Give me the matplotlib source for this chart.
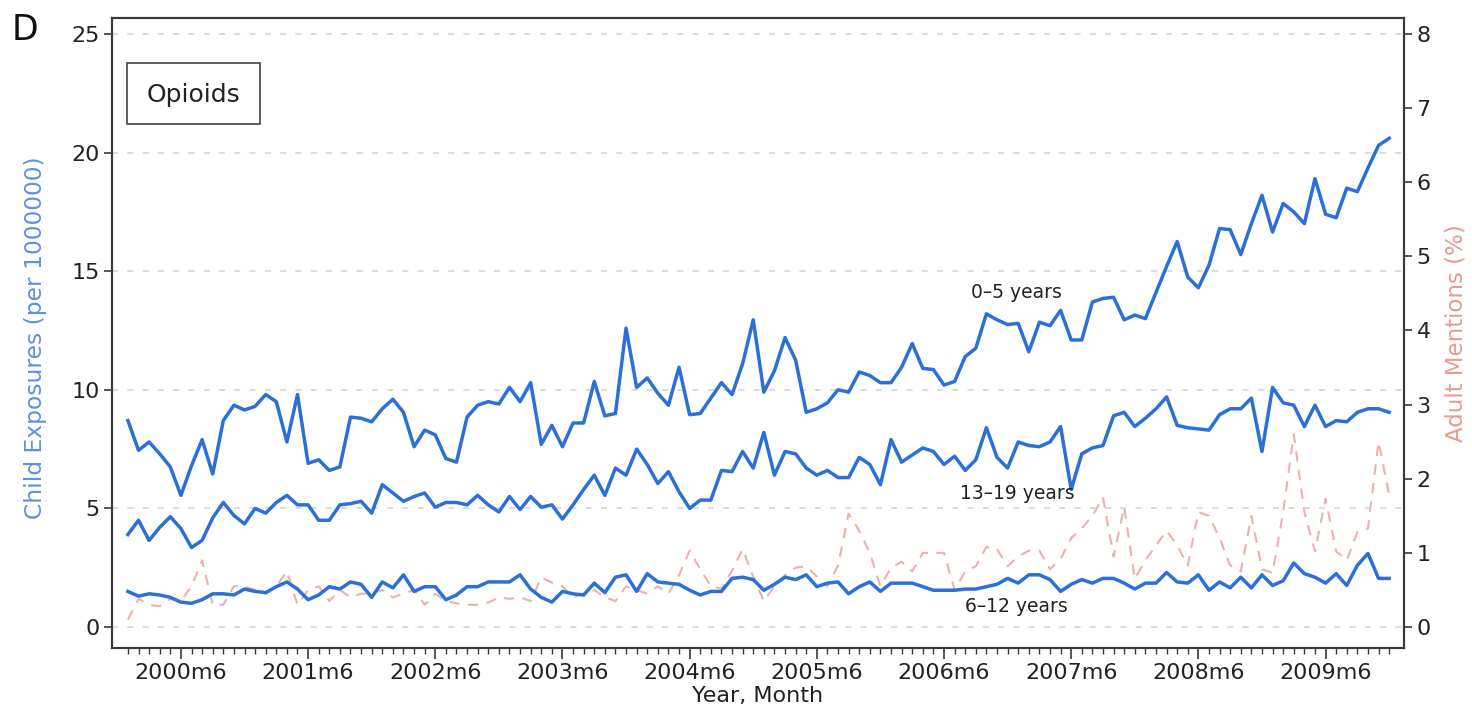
import numpy as np
import matplotlib
matplotlib.use("Agg")
import matplotlib.pyplot as plt
from matplotlib.patches import Rectangle

plt.rcParams["font.family"] = ["DejaVu Sans"]

# monthly series, 2000m1 .. 2009m12
years = list(range(2000, 2010))
n_months = 120

age_0_5 = [
    8.7, 7.45, 7.8, 7.3, 6.75, 5.55, 6.8, 7.9, 6.45, 8.7, 9.35, 9.15,
    9.3, 9.8, 9.5, 7.8, 9.8, 6.9, 7.05, 6.6, 6.75, 8.85, 8.8, 8.65,
    9.2, 9.6, 9.05, 7.6, 8.3, 8.1, 7.1, 6.95, 8.85, 9.35, 9.5, 9.4,
    10.1, 9.5, 10.3, 7.7, 8.5, 7.6, 8.6, 8.6, 10.35, 8.9, 9.0, 12.6,
    10.1, 10.5, 9.85, 9.35, 10.95, 8.95, 9.0, 9.65, 10.3, 9.8, 11.1, 12.95,
    9.9, 10.8, 12.2, 11.25, 9.05, 9.2, 9.45, 10.0, 9.9, 10.75, 10.6, 10.3,
    10.3, 10.95, 11.95, 10.9, 10.85, 10.2, 10.35, 11.4, 11.75, 13.2, 12.95, 12.75,
    12.8, 11.6, 12.85, 12.7, 13.35, 12.1, 12.1, 13.7, 13.85, 13.9, 12.95, 13.15,
    13.0, 14.1, 15.2, 16.25, 14.75, 14.3, 15.25, 16.8, 16.75, 15.7, 17.0, 18.2,
    16.65, 17.85, 17.5, 17.0, 18.9, 17.4, 17.25, 18.5, 18.35, 19.35, 20.3, 20.6,
]

age_13_19 = [
    3.9, 4.5, 3.65, 4.2, 4.65, 4.15, 3.35, 3.65, 4.6, 5.25, 4.7, 4.35,
    5.0, 4.8, 5.25, 5.55, 5.15, 5.15, 4.5, 4.5, 5.15, 5.2, 5.3, 4.8,
    6.0, 5.65, 5.3, 5.5, 5.65, 5.05, 5.25, 5.25, 5.15, 5.55, 5.15, 4.85,
    5.5, 4.95, 5.5, 5.05, 5.15, 4.55, 5.15, 5.8, 6.4, 5.55, 6.7, 6.4,
    7.5, 6.85, 6.05, 6.55, 5.7, 5.0, 5.35, 5.35, 6.6, 6.55, 7.4, 6.7,
    8.2, 6.4, 7.4, 7.3, 6.7, 6.4, 6.6, 6.3, 6.3, 7.15, 6.85, 6.0,
    7.9, 6.95, 7.25, 7.55, 7.4, 6.85, 7.2, 6.6, 7.05, 8.4, 7.15, 6.7,
    7.8, 7.65, 7.6, 7.8, 8.45, 5.8, 7.3, 7.55, 7.65, 8.9, 9.05, 8.45,
    8.8, 9.2, 9.7, 8.5, 8.4, 8.35, 8.3, 8.95, 9.2, 9.2, 9.65, 7.4,
    10.1, 9.45, 9.35, 8.45, 9.35, 8.45, 8.7, 8.65, 9.05, 9.2, 9.2, 9.05,
]

age_6_12 = [
    1.5, 1.3, 1.4, 1.35, 1.25, 1.05, 1.0, 1.15, 1.4, 1.4, 1.35, 1.6,
    1.5, 1.45, 1.7, 1.9, 1.6, 1.15, 1.35, 1.7, 1.6, 1.9, 1.8, 1.25,
    1.9, 1.65, 2.2, 1.5, 1.7, 1.7, 1.15, 1.35, 1.7, 1.7, 1.9, 1.9,
    1.9, 2.2, 1.6, 1.25, 1.05, 1.5, 1.4, 1.35, 1.85, 1.45, 2.1, 2.2,
    1.5, 2.25, 1.9, 1.85, 1.8, 1.55, 1.35, 1.5, 1.5, 2.05, 2.1, 2.0,
    1.55, 1.8, 2.1, 2.0, 2.2, 1.7, 1.85, 1.9, 1.4, 1.7, 1.9, 1.5,
    1.85, 1.85, 1.85, 1.7, 1.55, 1.55, 1.55, 1.6, 1.6, 1.7, 1.8, 2.05,
    1.85, 2.2, 2.2, 2.0, 1.5, 1.8, 2.0, 1.85, 2.05, 2.05, 1.85, 1.6,
    1.85, 1.85, 2.3, 1.9, 1.85, 2.2, 1.55, 1.9, 1.65, 2.1, 1.65, 2.2,
    1.75, 1.95, 2.7, 2.25, 2.1, 1.85, 2.25, 1.75, 2.6, 3.1, 2.05, 2.05,
]

# adult mentions, percent (right axis)
adult_pct = [
    0.1, 0.38, 0.3, 0.28, 0.38, 0.35, 0.55, 0.9, 0.3, 0.3, 0.55, 0.55,
    0.5, 0.45, 0.55, 0.75, 0.3, 0.5, 0.55, 0.35, 0.5, 0.4, 0.45, 0.45,
    0.5, 0.4, 0.45, 0.5, 0.3, 0.45, 0.35, 0.32, 0.3, 0.3, 0.33, 0.4,
    0.38, 0.4, 0.35, 0.67, 0.6, 0.55, 0.4, 0.45, 0.5, 0.4, 0.35, 0.55,
    0.5, 0.45, 0.55, 0.45, 0.7, 1.03, 0.78, 0.55, 0.52, 0.76, 1.05, 0.68,
    0.35, 0.55, 0.7, 0.8, 0.82, 0.68, 0.55, 0.83, 1.53, 1.3, 1.0, 0.55,
    0.8, 0.88, 0.75, 1.0, 1.0, 1.0, 0.5, 0.75, 0.82, 1.08, 1.05, 0.82,
    0.95, 1.03, 1.03, 0.78, 0.92, 1.2, 1.33, 1.5, 1.75, 0.95, 1.62, 0.65,
    0.9, 1.1, 1.3, 1.1, 0.83, 1.55, 1.5, 1.2, 0.83, 0.75, 1.5, 0.78,
    0.73, 1.55, 2.6, 1.55, 1.02, 1.73, 1.02, 0.9, 1.28, 1.33, 2.5, 1.78,
]

series_labels = ["0\u20135 years", "13\u201319 years", "6\u201312 years"]

BLUE = "#2b6fd8"
ADULT = "#e8b3ad"
GRID = "#d2d2d2"
SPINE = "#3a3a3a"
TEXT = "#222222"

months = np.arange(n_months)

fig = plt.figure(figsize=(14.72, 7.10), dpi=100)
ax = fig.add_axes([0.0761, 0.0873, 0.8777, 0.8873])
ax2 = ax.twinx()

ylim_left = (-0.885, 25.67)
ax.set_ylim(*ylim_left)
ax2.set_ylim(ylim_left[0] * 8 / 25, ylim_left[1] * 8 / 25)
ax.set_xlim(-1.5, 120.4)

# grid at left-axis ticks
for v in range(0, 30, 5):
    ax.axhline(v, color=GRID, lw=1.1, ls=(0, (4, 6)), zorder=0)

ax2.plot(months, adult_pct, color=ADULT, lw=1.5, ls=(0, (5, 4)), zorder=1)
for s in (age_0_5, age_13_19, age_6_12):
    ax.plot(months, s, color=BLUE, lw=2.5, zorder=3)
ax.set_zorder(ax2.get_zorder() + 1)
ax.patch.set_visible(False)

# series labels
ax.text(83.8, 14.1, series_labels[0], fontsize=13.5, ha="center", va="center", color=TEXT)
ax.text(83.9, 5.62, series_labels[1], fontsize=13.5, ha="center", va="center", color=TEXT)
ax.text(83.8, 0.86, series_labels[2], fontsize=13.5, ha="center", va="center", color=TEXT)

# panel box
ax.add_patch(Rectangle((0.0116, 0.832), 0.103, 0.0966, transform=ax.transAxes,
                       fill=False, ec="#444444", lw=1.2, zorder=5))
ax.text(0.0631, 0.878, "Opioids", transform=ax.transAxes, fontsize=18,
        ha="center", va="center", color=TEXT)

# x ticks: major at June, minor every month
ax.set_xticks([12 * k + 5 for k in range(len(years))])
ax.set_xticklabels([f"{y}m6" for y in years], fontsize=16, color=TEXT)
ax.set_xticks(months, minor=True)
ax.tick_params(axis="x", which="major", length=8, width=1.2, color=SPINE, pad=3)
ax.tick_params(axis="x", which="minor", length=4.5, width=1.0, color=SPINE)

ax.set_yticks(range(0, 30, 5))
ax.tick_params(axis="y", labelsize=16, length=6, width=1.2, color=SPINE,
               labelcolor=TEXT, pad=3)
ax2.set_yticks(range(0, 9))
ax2.tick_params(axis="y", labelsize=16, length=6, width=1.2, color=SPINE,
                labelcolor=TEXT, pad=3)

for a in (ax, ax2):
    for sp in a.spines.values():
        sp.set_color(SPINE)
        sp.set_linewidth(1.5)

ax.set_xlabel("Year, Month", fontsize=16, color=TEXT)
ax.xaxis.set_label_coords(0.5, -0.06)
ax.set_ylabel("Child Exposures (per 1000000)", fontsize=16.8, color="#5f91dc")
ax.yaxis.set_label_coords(-0.0505, 0.492)
ax2.set_ylabel("Adult Mentions (%)", fontsize=16.5, color="#e69c8f")
ax2.yaxis.set_label_coords(1.0315, 0.5)

fig.text(0.017, 0.958, "D", fontsize=25, ha="center", va="center", color="#111111")

fig.savefig("out.png", dpi=100)
